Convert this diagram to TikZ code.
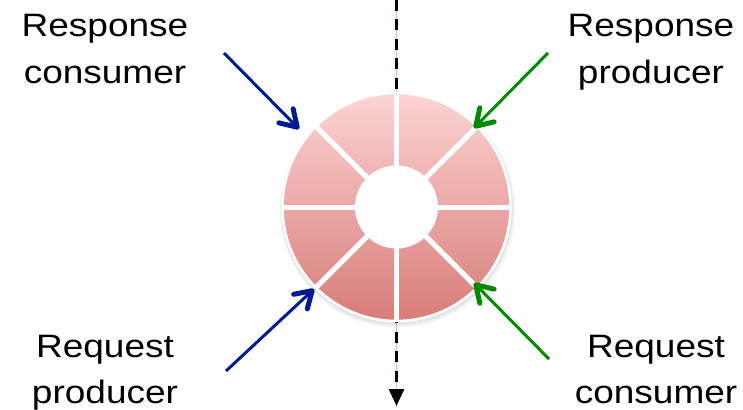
\documentclass[tikz,border=0pt]{standalone}
\usepackage{graphicx}
\usepackage{fontspec}
\setmainfont{Liberation Sans}
\usetikzlibrary{arrows.meta}
\definecolor{ringtop}{RGB}{252,212,212}
\definecolor{ringbot}{RGB}{216,124,120}
\definecolor{navyarr}{RGB}{0,26,150}
\definecolor{greenarr}{RGB}{0,138,0}
\definecolor{guideline}{RGB}{160,215,225}
\newcommand{\lblbox}[1]{\scalebox{1}[0.875]{\begin{tabular}[t]{@{}c@{}}#1\end{tabular}}}
\begin{document}
\begin{tikzpicture}[x=1pt,y=-1pt,
  lbl/.style={anchor=base, inner sep=0pt, font=\fontsize{37}{52.6}\selectfont},
  rolearrow/.style={line width=3pt, -{Straight Barb[length=16pt,width=20pt,line width=5pt,round]}},
  flowline/.style={black, line width=3pt, dash pattern=on 11pt off 8.5pt,
    -{Triangle[length=17pt,width=15pt]}}]
\useasboundingbox (0,0) rectangle (743,409);
\coordinate (C) at (396.5,207);
% flow line (behind the ring)
\coordinate (flowtop) at (396.5,0);
\coordinate (flowbot) at (396.5,406);
\draw[guideline, line width=0.8pt] (flowtop) -- (flowbot);
\draw[flowline] (flowtop) -- (flowbot);
% shadow
\fill[black, opacity=0.05] (397.5,210) circle (117.5);
\fill[black, opacity=0.06] (397,209) circle (116);
% ring
\shade[top color=ringtop, bottom color=ringbot] (C) circle (114);
\draw[white, line width=2.5pt] (C) circle (114);
\foreach \a in {0,45,90,135}
  \draw[white, line width=5pt] ([shift={(\a:113)}]C) -- ([shift={(\a+180:113)}]C);
\fill[white] (C) circle (41.5);
% labels
\node[lbl] (respcons) at (105,37) {\lblbox{Response\\consumer}};
\node[lbl] (respprod) at (651,37) {\lblbox{Response\\producer}};
\node[lbl] (reqprod) at (105,357) {\lblbox{Request\\producer}};
\node[lbl] (reqcons) at (656,357) {\lblbox{Request\\consumer}};
% arrows
\coordinate (rcs) at (224,53);  \coordinate (rct) at (299,129);
\coordinate (rps) at (548,53);  \coordinate (rpt) at (474,128);
\coordinate (qps) at (226,371); \coordinate (qpt) at (314,289);
\coordinate (qcs) at (549,359); \coordinate (qct) at (474,283);
\draw[rolearrow, navyarr] (rcs) -- (rct);
\draw[rolearrow, greenarr] (rps) -- (rpt);
\draw[rolearrow, navyarr] (qps) -- (qpt);
\draw[rolearrow, greenarr] (qcs) -- (qct);
\end{tikzpicture}
\end{document}
